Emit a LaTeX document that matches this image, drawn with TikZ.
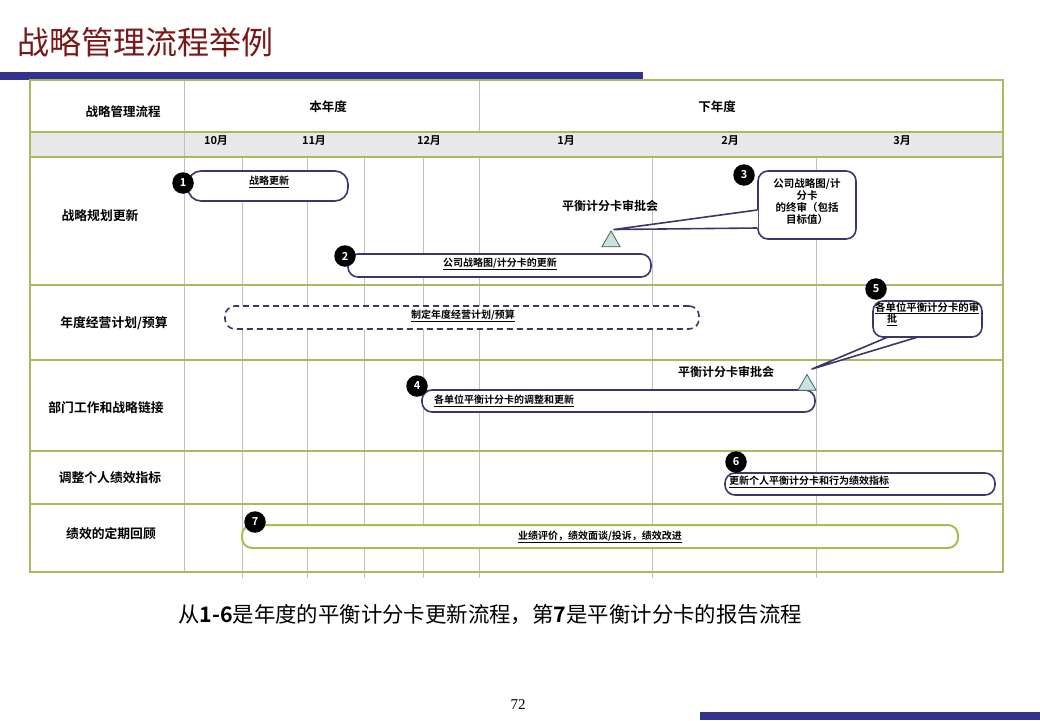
\documentclass[tikz,border=0pt]{standalone}
\usepackage{fontspec}
\setmainfont{Noto Sans CJK SC}[BoldFont={Noto Sans CJK SC Bold}]
\newfontfamily\seriffont{Liberation Serif}
\usetikzlibrary{shapes.geometric}
\definecolor{titlered}{RGB}{122,24,24}
\definecolor{barblue}{RGB}{50,52,140}
\definecolor{olive}{RGB}{170,185,100}
\definecolor{gridgray}{RGB}{192,192,192}
\definecolor{monthgray}{RGB}{232,232,232}
\definecolor{boxc}{RGB}{60,55,105}
\definecolor{trifill}{RGB}{200,228,220}
\definecolor{trid}{RGB}{70,95,95}
\definecolor{greenbox}{RGB}{168,190,80}
\tikzset{
  hdr/.style={font=\bfseries\fontsize{12.5}{14}\selectfont, inner sep=0},
  mon/.style={font=\bfseries\fontsize{11}{13}\selectfont, inner sep=0},
  rowlbl/.style={font=\bfseries\fontsize{12.8}{14}\selectfont, inner sep=0},
  boxtxt/.style={font=\bfseries\fontsize{10}{12}\selectfont, inner sep=0},
  procbox/.style={draw=boxc, line width=1.6pt, rounded corners=10pt, fill=white, inner sep=0},
  dashbox/.style={draw=boxc, line width=1.6pt, rounded corners=10pt, fill=white, inner sep=0, dash pattern=on 6pt off 4pt},
  greenproc/.style={draw=greenbox, line width=2pt, rounded corners=10pt, fill=white, inner sep=0},
  badge/.style={circle, fill=black, text=white, minimum size=21.5pt, inner sep=0, font=\bfseries\fontsize{11}{12}\selectfont},
  tri/.style={regular polygon, regular polygon sides=3, minimum size=21pt, inner sep=0, draw=trid, fill=trifill, line width=0.8pt},
  meeting/.style={font=\bfseries\fontsize{12}{14}\selectfont, inner sep=0},
  pointer/.style={draw=boxc, line width=1.6pt, line join=round}
}
\begin{document}
\begin{tikzpicture}[x=1pt,y=-1pt]
\useasboundingbox (0,0) rectangle (1040,720);
% title and bars
\node[anchor=west, text=titlered, font=\fontsize{32}{36}\selectfont, inner sep=0] (title) at (17,42) {战略管理流程举例};
\fill[barblue] (0,72) rectangle (643,80);
\fill[barblue] (700,712) rectangle (1040,720);
% table
\fill[monthgray] (30,132) rectangle (1003,157);
\foreach \x in {242,307,364,423,479,652,816} \draw[gridgray, line width=0.8pt] (\x,157) -- (\x,578);
\draw[gridgray, line width=0.8pt] (184,80) -- (184,572);
\draw[gridgray, line width=0.8pt] (479,80) -- (479,132);
\foreach \y in {132,157,285,360,451,504} \draw[olive, line width=1.1pt] (30,\y) -- (1003,\y);
\draw[olive, line width=1.1pt] (30,80) rectangle (1003,572);
% headers
\node[hdr] (h0) at (123,112) {战略管理流程};
\node[hdr] (h1) at (328,107) {本年度};
\node[hdr] (h2) at (717,107) {下年度};
\node[mon] (m10) at (216,141) {10月};
\node[mon] (m11) at (314,141) {11月};
\node[mon] (m12) at (429,141) {12月};
\node[mon] (m1) at (566,141) {1月};
\node[mon] (m2) at (730,141) {2月};
\node[mon] (m3) at (902,141) {3月};
% row labels
\node[rowlbl] (r1) at (100,216) {战略规划更新};
\node[rowlbl] (r2) at (114,323) {年度经营计划/预算};
\node[rowlbl] (r3) at (106,408) {部门工作和战略链接};
\node[rowlbl] (r4) at (110,478) {调整个人绩效指标};
\node[rowlbl] (r5) at (111,534) {绩效的定期回顾};
% boxes
\node[procbox, minimum width=160pt, minimum height=30pt, rounded corners=13pt] (b1) at (268,186) {};
\node[procbox, minimum width=303pt, minimum height=23pt] (b2) at (499.5,265.5) {};
\node[procbox, minimum width=98pt, minimum height=68pt] (b3) at (807,205) {};
\node[dashbox, minimum width=474pt, minimum height=23pt] (bplan) at (462,317.5) {};
\node[procbox, minimum width=109pt, minimum height=36pt] (b5) at (927.5,319) {};
\node[procbox, minimum width=393pt, minimum height=22pt] (b4) at (618.5,401) {};
\node[procbox, minimum width=270pt, minimum height=22pt] (b6) at (860,484) {};
\node[greenproc, minimum width=716pt, minimum height=23pt] (b7) at (600,536.5) {};
% triangles
\node[tri] (t1) at (611,241.5) {};
\node[tri] (t2) at (807,385) {};
% callout pointers
\coordinate (tip1) at (614,229.5);
\coordinate (p3a) at (b3.west |- 0,210);
\coordinate (p3b) at (b3.west |- 0,228);
\fill[white] (tip1) -- ([xshift=1pt]p3a) -- ([xshift=1pt]p3b) -- cycle;
\draw[pointer] (p3a) -- (tip1) -- (p3b);
\coordinate (tip2) at (812,369);
\coordinate (p5a) at (888,337);
\coordinate (p5b) at (918,337);
\fill[white] (tip2) -- ([yshift=-1pt]p5a) -- ([yshift=-1pt]p5b) -- cycle;
\draw[pointer] (p5a) -- (tip2) -- (p5b);
% box texts
\node[boxtxt] (x1) at (269,182) {\underline{战略更新}};
\node[boxtxt] (x2) at (500,264) {\underline{公司战略图/计分卡的更新}};
\node[boxtxt, align=center, font=\bfseries\fontsize{10.5}{12}\selectfont] (x3) at (807,201.5) {公司战略图/计\\分卡\\的终审（包括\\目标值）};
\node[boxtxt] (xplan) at (463,316) {\underline{制定年度经营计划/预算}};
\node[boxtxt, anchor=west, font=\bfseries\fontsize{10.4}{12}\selectfont] (x5a) at (875,308) {\underline{各单位平衡计分卡的审}};
\node[boxtxt] (x5b) at (892,320) {\underline{批}};
\node[boxtxt, anchor=west] (x4) at (434,401) {\underline{各单位平衡计分卡的调整和更新}};
\node[boxtxt, anchor=west] (x6) at (729,482) {\underline{更新个人平衡计分卡和行为绩效指标}};
\node[boxtxt] (x7) at (600,537) {\underline{业绩评价，绩效面谈/投诉，绩效改进}};
% meeting labels
\node[meeting] (mt1) at (610,206) {平衡计分卡审批会};
\node[meeting] (mt2) at (726,372) {平衡计分卡审批会};
% badges
\node[badge] (n1) at (183,183) {1};
\node[badge] (n2) at (345,256) {2};
\node[badge] (n3) at (744,175) {3};
\node[badge] (n4) at (417,386) {4};
\node[badge] (n5) at (876,289) {5};
\node[badge] (n6) at (736,462) {6};
\node[badge] (n7) at (255,522) {7};
% footer
\node[font=\fontsize{21.4}{24}\selectfont, inner sep=0] (summary) at (490,615) {从\textbf{1-6}是年度的平衡计分卡更新流程，第\textbf{7}是平衡计分卡的报告流程};
\node[font=\seriffont\fontsize{15}{17}\selectfont, inner sep=0] (page) at (518,705) {72};
\end{tikzpicture}
\end{document}
